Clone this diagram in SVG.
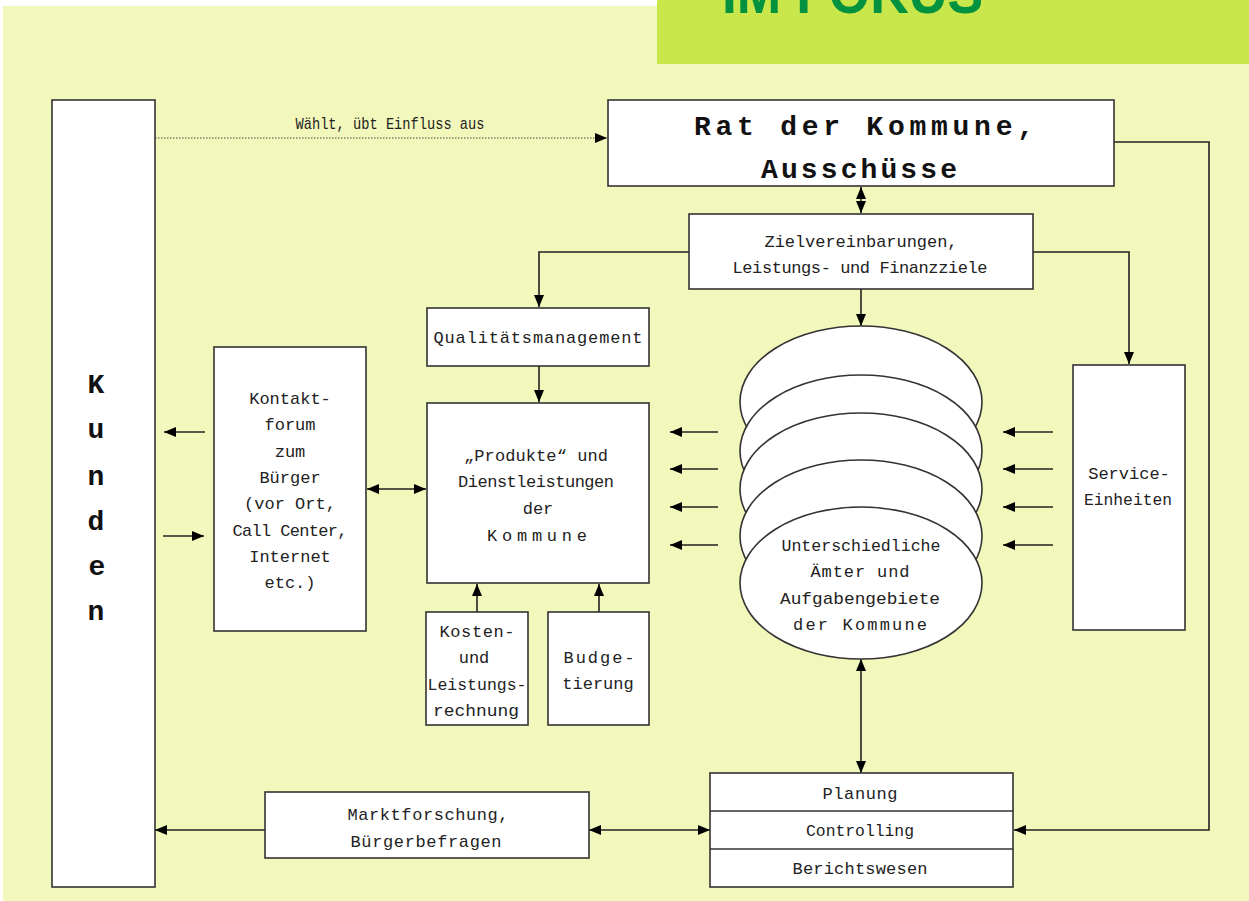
<svg xmlns="http://www.w3.org/2000/svg" width="1249" height="901" viewBox="0 0 1249 901">
<defs>
<marker id="ah" viewBox="0 0 12 10" refX="12" refY="5" markerWidth="12" markerHeight="10" markerUnits="userSpaceOnUse" orient="auto-start-reverse">
<path d="M0,0 L12,5 L0,10 z" fill="#000"/>
</marker>
<style>
.box{fill:#fff;stroke:#333;stroke-width:1.6}
.t{font-family:"Liberation Mono","DejaVu Sans Mono",monospace;font-size:17px;fill:#222;text-anchor:middle}
.tb{font-family:"Liberation Mono","DejaVu Sans Mono",monospace;font-weight:bold;font-size:28px;fill:#111;text-anchor:middle}
.c{fill:none;stroke:#222;stroke-width:1.6}
.a{marker-end:url(#ah)}
.d{marker-start:url(#ah);marker-end:url(#ah)}
</style>
</defs>
<rect x="0" y="0" width="1249" height="901" fill="#fff"/>
<rect x="3" y="6" width="1246" height="895" fill="#F2F7BB"/>
<g id="title">
<rect x="657" y="0" width="592" height="64" fill="#C9E64A"/>
<text x="722" y="13" font-family="Liberation Sans, Arial, sans-serif" font-weight="bold" font-size="60" fill="#00923F" textLength="261" lengthAdjust="spacingAndGlyphs">IM FOKUS</text>
</g>
<g id="connectors">
<path class="a" d="M155,138 H607" fill="none" stroke="#444" stroke-width="1" stroke-dasharray="1.5 1.5"/>
<path class="c d" d="M861,187 V213"/>
<path class="c a" d="M689,252 H539 V307"/>
<path class="c a" d="M1033,252 H1129 V364"/>
<path class="c a" d="M861,289 V326"/>
<path class="c a" d="M539,366 V402"/>
<path class="c d" d="M367,489 H426"/>
<path class="c a" d="M205,432 H164"/>
<path class="c a" d="M163,536 H204"/>
<path class="c a" d="M718,432 H670"/>
<path class="c a" d="M718,469 H670"/>
<path class="c a" d="M718,507 H670"/>
<path class="c a" d="M718,545 H670"/>
<path class="c a" d="M1053,432 H1003"/>
<path class="c a" d="M1053,469 H1003"/>
<path class="c a" d="M1053,507 H1003"/>
<path class="c a" d="M1053,545 H1003"/>
<path class="c a" d="M477,612 V584"/>
<path class="c a" d="M599,612 V584"/>
<path class="c d" d="M861,659 V773"/>
<path class="c a" d="M1114,142 H1209 V830 H1014"/>
<path class="c a" d="M265,830 H155"/>
<path class="c d" d="M589,830 H710"/>
</g>
<g id="kunden">
<rect class="box" x="52" y="100" width="103" height="787"/>
<text class="tb" x="96" y="393">K</text>
<text class="tb" x="96" y="438">u</text>
<text class="tb" x="96" y="485">n</text>
<text class="tb" x="96" y="530">d</text>
<text class="tb" x="97" y="575">e</text>
<text class="tb" x="96" y="620">n</text>
</g>
<g id="label-waehlt">
<text class="t" x="390" y="129" font-size="15" textLength="189" lengthAdjust="spacingAndGlyphs">Wählt, übt Einfluss aus</text>
</g>
<g id="rat">
<rect class="box" x="608" y="100" width="506" height="86"/>
<text class="tb" x="864" y="135" textLength="340" lengthAdjust="spacing">Rat der Kommune,</text>
<text class="tb" x="859" y="178" textLength="196" lengthAdjust="spacing">Ausschüsse</text>
</g>
<g id="ziel">
<rect class="box" x="689" y="214" width="344" height="75"/>
<text class="t" x="861" y="247" textLength="193" lengthAdjust="spacing">Zielvereinbarungen,</text>
<text class="t" x="860" y="273" textLength="255" lengthAdjust="spacing">Leistungs- und Finanzziele</text>
</g>
<g id="qualitaet">
<rect class="box" x="427" y="308" width="222" height="58"/>
<text class="t" x="538" y="343" textLength="209" lengthAdjust="spacing">Qualitätsmanagement</text>
</g>
<g id="kontakt">
<rect class="box" x="214" y="347" width="152" height="284"/>
<text class="t" x="290" y="404">Kontakt-</text>
<text class="t" x="290" y="430">forum</text>
<text class="t" x="290" y="457">zum</text>
<text class="t" x="290" y="483">Bürger</text>
<text class="t" x="290" y="509">(vor Ort,</text>
<text class="t" x="290" y="536" textLength="115" lengthAdjust="spacing">Call Center,</text>
<text class="t" x="290" y="562">Internet</text>
<text class="t" x="290" y="588">etc.)</text>
</g>
<g id="produkte">
<rect class="box" x="427" y="403" width="222" height="180"/>
<text class="t" x="536" y="461" textLength="144" lengthAdjust="spacing">„Produkte“ und</text>
<text class="t" x="536" y="487" textLength="156" lengthAdjust="spacing">Dienstleistungen</text>
<text class="t" x="538" y="514">der</text>
<text class="t" x="537" y="541" textLength="100" lengthAdjust="spacing">Kommune</text>
</g>
<g id="kosten">
<rect class="box" x="426" y="612" width="102" height="113"/>
<text class="t" x="477" y="637" textLength="75" lengthAdjust="spacing">Kosten-</text>
<text class="t" x="474" y="663">und</text>
<text class="t" x="477" y="690" textLength="99" lengthAdjust="spacingAndGlyphs">Leistungs-</text>
<text class="t" x="476" y="716" textLength="86" lengthAdjust="spacingAndGlyphs">rechnung</text>
</g>
<g id="budget">
<rect class="box" x="548" y="612" width="101" height="113"/>
<text class="t" x="599" y="663" textLength="71" lengthAdjust="spacing">Budge-</text>
<text class="t" x="598" y="689">tierung</text>
</g>
<g id="aemter">
<ellipse class="box" cx="861" cy="402" rx="121" ry="76"/>
<ellipse class="box" cx="861" cy="451" rx="121" ry="76"/>
<ellipse class="box" cx="861" cy="489" rx="121" ry="76"/>
<ellipse class="box" cx="861" cy="536" rx="121" ry="76"/>
<ellipse class="box" cx="861" cy="583" rx="121" ry="76"/>
<text class="t" x="861" y="551" textLength="159" lengthAdjust="spacingAndGlyphs">Unterschiedliche</text>
<text class="t" x="860" y="577" textLength="99" lengthAdjust="spacing">Ämter und</text>
<text class="t" x="860" y="604" textLength="160" lengthAdjust="spacingAndGlyphs">Aufgabengebiete</text>
<text class="t" x="860" y="630" textLength="134" lengthAdjust="spacing">der Kommune</text>
</g>
<g id="service">
<rect class="box" x="1073" y="365" width="112" height="265"/>
<text class="t" x="1129" y="479">Service-</text>
<text class="t" x="1128" y="505" textLength="88" lengthAdjust="spacingAndGlyphs">Einheiten</text>
</g>
<g id="markt">
<rect class="box" x="265" y="792" width="324" height="66"/>
<text class="t" x="428" y="820" textLength="161" lengthAdjust="spacing">Marktforschung,</text>
<text class="t" x="426" y="847" textLength="151" lengthAdjust="spacing">Bürgerbefragen</text>
</g>
<g id="planung">
<rect class="box" x="710" y="773" width="303" height="114"/>
<line x1="710" y1="811" x2="1013" y2="811" stroke="#333" stroke-width="1.6"/>
<line x1="710" y1="849" x2="1013" y2="849" stroke="#333" stroke-width="1.6"/>
<text class="t" x="860" y="799" textLength="75" lengthAdjust="spacing">Planung</text>
<text class="t" x="860" y="836" textLength="108" lengthAdjust="spacingAndGlyphs">Controlling</text>
<text class="t" x="860" y="874" textLength="135" lengthAdjust="spacing">Berichtswesen</text>
</g>
</svg>
